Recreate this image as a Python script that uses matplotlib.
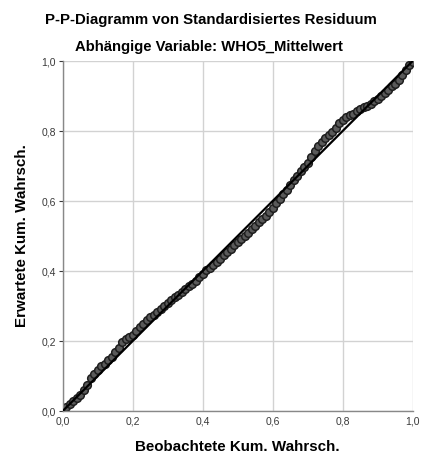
import matplotlib
matplotlib.use("Agg")
import matplotlib.pyplot as plt

observed = [0.00, 0.01, 0.02, 0.03, 0.04, 0.05, 0.06, 0.07, 0.08, 0.09,
            0.10, 0.11, 0.12, 0.13, 0.14, 0.15, 0.16, 0.17, 0.18, 0.19,
            0.20, 0.21, 0.22, 0.23, 0.24, 0.25, 0.26, 0.27, 0.28, 0.29,
            0.30, 0.31, 0.32, 0.33, 0.34, 0.35, 0.36, 0.37, 0.38, 0.39,
            0.40, 0.41, 0.42, 0.43, 0.44, 0.45, 0.46, 0.47, 0.48, 0.49,
            0.50, 0.51, 0.52, 0.53, 0.54, 0.55, 0.56, 0.57, 0.58, 0.59,
            0.60, 0.61, 0.62, 0.63, 0.64, 0.65, 0.66, 0.67, 0.68, 0.69,
            0.70, 0.71, 0.72, 0.73, 0.74, 0.75, 0.76, 0.77, 0.78, 0.79,
            0.80, 0.81, 0.82, 0.83, 0.84, 0.85, 0.86, 0.87, 0.88, 0.89,
            0.90, 0.91, 0.92, 0.93, 0.94, 0.95, 0.96, 0.97, 0.98, 0.99, 1.00]
expected = [0.003, 0.012, 0.020, 0.028, 0.037, 0.046, 0.060, 0.075, 0.095, 0.105,
            0.118, 0.128, 0.135, 0.145, 0.155, 0.168, 0.180, 0.198, 0.205, 0.212,
            0.218, 0.228, 0.240, 0.250, 0.260, 0.270, 0.275, 0.283, 0.292, 0.300,
            0.310, 0.318, 0.325, 0.332, 0.340, 0.348, 0.356, 0.363, 0.372, 0.382,
            0.392, 0.402, 0.410, 0.418, 0.427, 0.435, 0.445, 0.455, 0.464, 0.474,
            0.483, 0.492, 0.501, 0.510, 0.520, 0.530, 0.540, 0.549, 0.558, 0.568,
            0.580, 0.594, 0.607, 0.620, 0.633, 0.647, 0.660, 0.672, 0.685, 0.697,
            0.710, 0.727, 0.742, 0.758, 0.768, 0.780, 0.790, 0.798, 0.810, 0.822,
            0.832, 0.840, 0.845, 0.850, 0.856, 0.862, 0.868, 0.873, 0.878, 0.885,
            0.892, 0.900, 0.910, 0.918, 0.928, 0.935, 0.945, 0.960, 0.975, 0.990, 0.998]

ticks = [0.0, 0.2, 0.4, 0.6, 0.8, 1.0]
tick_labels = ["0,0", "0,2", "0,4", "0,6", "0,8", "1,0"]

plt.rcParams['font.family'] = ['Liberation Sans', 'DejaVu Sans']

fig = plt.figure(figsize=(4.22, 4.58), dpi=100)
ax = fig.add_axes([0.1486, 0.1026, 0.829, 0.764])

ax.plot(observed, expected, linestyle='none', marker='o', markersize=5.5,
        markerfacecolor='#5a5a5a', markeredgecolor='#1e1e1e', markeredgewidth=1.1,
        zorder=2)
ax.plot([0, 1], [0, 1], color='black', linewidth=1.6, zorder=3)

ax.set_xlim(0, 1)
ax.set_ylim(0, 1)
ax.set_xticks(ticks)
ax.set_xticklabels(tick_labels)
ax.set_yticks(ticks)
ax.set_yticklabels(tick_labels)
ax.tick_params(labelsize=7.5, colors='#3a3a3a', length=3, width=0.8, pad=2)
ax.tick_params(axis='x', length=0, pad=4)
ax.grid(True, color='#d2d2d2', linewidth=1.0)
ax.set_axisbelow(True)
for side in ['top', 'right']:
    ax.spines[side].set_visible(False)
for side in ['left', 'bottom']:
    ax.spines[side].set_color('#888888')
    ax.spines[side].set_linewidth(1.0)

ax.set_xlabel('Beobachtete Kum. Wahrsch.', fontsize=10.9, fontweight='bold', labelpad=10)
ax.set_ylabel('Erwartete Kum. Wahrsch.', fontsize=10.9, fontweight='bold', labelpad=9)

fig.text(0.499, 0.956, 'P-P-Diagramm von Standardisiertes Residuum', ha='center', va='center',
         fontsize=10.8, fontweight='bold')
fig.text(0.495, 0.897, 'Abhängige Variable: WHO5_Mittelwert', ha='center', va='center',
         fontsize=10.7, fontweight='bold')

fig.savefig('out.png', dpi=100)
